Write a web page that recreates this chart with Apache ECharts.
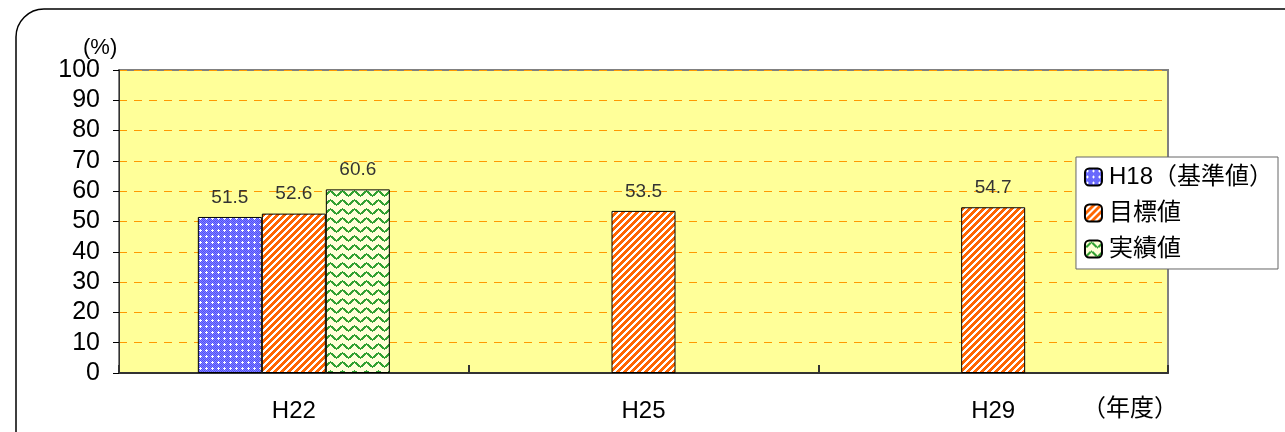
<!DOCTYPE html>
<html>
<head>
<meta charset="utf-8">
<title>chart</title>
<script src="https://cdn.jsdelivr.net/npm/echarts@6/dist/echarts.min.js"></script>
<style>
  html, body { margin: 0; padding: 0; background: #fff; }
  #chart { width: 1285px; height: 432px; }
</style>
</head>
<body>
<div id="chart"></div>
<script>
  var categories = ['H22', 'H25', 'H29'];
  var seriesNames = ['H18（基準値）', '目標値', '実績値'];
  var baseValues = [51.5, null, null];
  var targetValues = [52.6, 53.5, 54.7];
  var actualValues = [60.6, null, null];
  var yTicks = [0, 10, 20, 30, 40, 50, 60, 70, 80, 90, 100];

  var FONT = '"Liberation Sans", "Noto Sans CJK JP", sans-serif';

  // small tiles drawn pixel by pixel, used as bar fills
  function makeTile(w, h, pick) {
    var c = document.createElement('canvas');
    c.width = w; c.height = h;
    var ctx = c.getContext('2d');
    var img = ctx.createImageData(w, h);
    for (var y = 0; y < h; y++) {
      for (var x = 0; x < w; x++) {
        var col = pick(x, y);
        var i = (y * w + x) * 4;
        img.data[i] = col[0]; img.data[i + 1] = col[1]; img.data[i + 2] = col[2]; img.data[i + 3] = 255;
      }
    }
    ctx.putImageData(img, 0, 0);
    return c;
  }

  var bluePattern = makeTile(6, 6, function (x, y) {
    if ((x == 2 && y >= 1 && y <= 3) || (y == 2 && x >= 1 && x <= 3)) return [255, 255, 255];
    if (x == 5 && y == 5) return [70, 70, 255];
    if ((x + y) % 2 == 1) return [130, 130, 255];
    return [80, 80, 250];
  });

  var orangePattern = makeTile(7, 7, function (x, y) {
    return ((x + y) % 7) < 4 ? [255, 102, 0] : [255, 255, 255];
  });

  var greenPattern = makeTile(12, 9, function (x, y) {
    var t = x / 12;
    var yc = t < 0.5 ? 6.5 - t * 2 * 5 : 1.5 + (t - 0.5) * 2 * 5;
    return Math.abs(y - yc) < 1.3 ? [50, 160, 50] : [255, 255, 215];
  });

  function fill(canvas) {
    return { image: canvas, repeat: 'repeat' };
  }

  function barSeries(name, values, pattern) {
    return {
      name: name,
      type: 'bar',
      data: values,
      barWidth: 64,
      barGap: '0%',
      itemStyle: { color: fill(pattern), borderColor: '#000', borderWidth: 1 },
      label: {
        show: true,
        position: 'top',
        distance: 10,
        fontSize: 19,
        fontFamily: FONT,
        color: '#333',
        formatter: function (p) { return p.value.toFixed(1); }
      }
    };
  }

  var chart = echarts.init(document.getElementById('chart'));
  var option = {
    animation: false,
    grid: {
      left: 119, right: 117, top: 70, bottom: 59,
      show: true,
      backgroundColor: '#FFFF99',
      borderColor: '#808080',
      borderWidth: 2
    },
    legend: {
      orient: 'vertical',
      right: 7,
      top: 157,
      backgroundColor: '#fff',
      borderColor: '#666',
      borderWidth: 1,
      borderRadius: 0,
      padding: [8, 5, 8, 8],
      itemWidth: 17,
      itemHeight: 17,
      itemGap: 12,
      data: seriesNames,
      textStyle: { fontSize: 24, fontFamily: FONT, color: '#000', padding: [0, 0, 0, 2] }
    },
    xAxis: {
      type: 'category',
      data: categories,
      axisLine: { lineStyle: { color: '#333', width: 2 } },
      axisTick: { show: true, inside: true, length: 8, lineStyle: { color: '#333', width: 2 } },
      axisLabel: { fontSize: 24, fontFamily: FONT, color: '#000', margin: 26 }
    },
    yAxis: {
      type: 'value',
      min: yTicks[0],
      max: yTicks[yTicks.length - 1],
      interval: yTicks[1] - yTicks[0],
      axisLine: { show: true, lineStyle: { color: '#333', width: 1 } },
      axisTick: { show: true, length: 6, lineStyle: { color: '#000' } },
      axisLabel: { fontSize: 25, fontFamily: FONT, color: '#000', margin: 19 },
      splitLine: { lineStyle: { color: '#FF9900', type: [8, 7], width: 1 } }
    },
    graphic: [
      {
        type: 'rect',
        shape: { x: 16, y: 9, width: 1320, height: 460, r: 28 },
        style: { fill: 'none', stroke: '#000', lineWidth: 1.5 },
        silent: true
      },
      {
        type: 'text',
        left: 83, top: 37,
        style: { text: '(%)', fontSize: 22, fontFamily: FONT, fill: '#000' }
      },
      {
        type: 'text',
        left: 1082, top: 397,
        style: { text: '（年度）', fontSize: 24, fontFamily: FONT, fill: '#000' }
      }
    ],
    series: [
      barSeries(seriesNames[0], baseValues, bluePattern),
      barSeries(seriesNames[1], targetValues, orangePattern),
      barSeries(seriesNames[2], actualValues, greenPattern)
    ]
  };
  chart.setOption(option);
</script>
</body>
</html>
